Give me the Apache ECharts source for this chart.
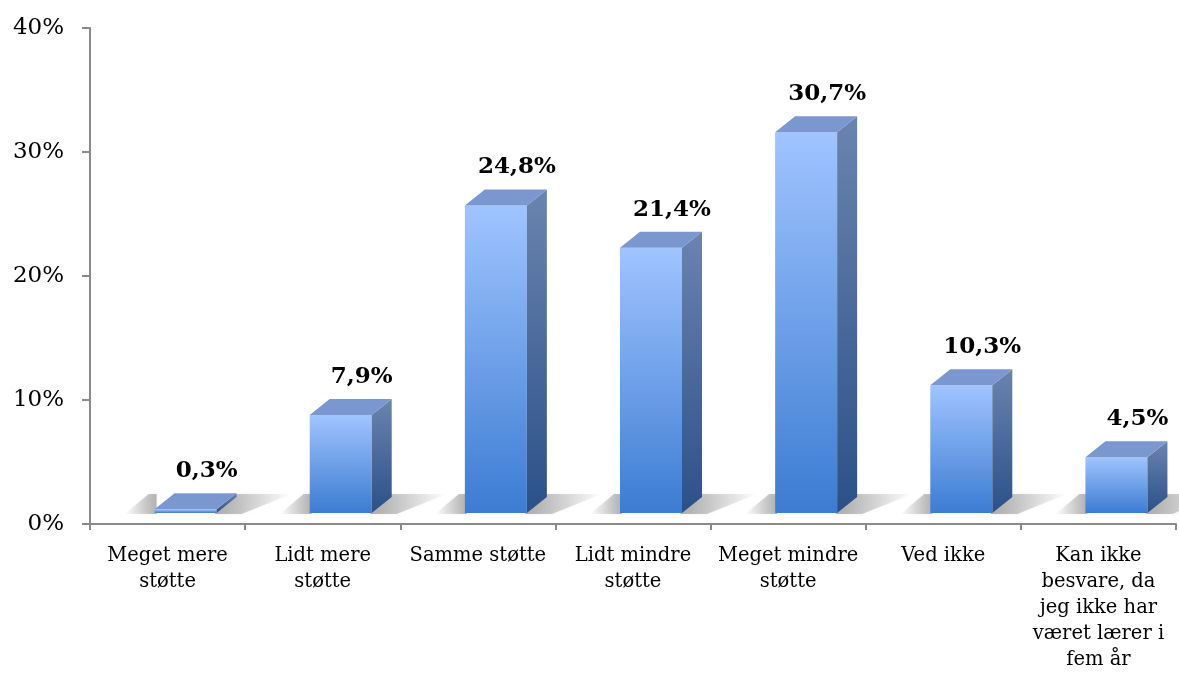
<!DOCTYPE html>
<html>
<head>
<meta charset="utf-8">
<script src="https://cdn.jsdelivr.net/npm/echarts@6/dist/echarts.min.js"></script>
<style>
html,body{margin:0;padding:0;background:#fff;}
#main{width:1179px;height:675px;}
</style>
</head>
<body>
<div id="main"></div>
<script>
const categories = [
  'Meget mere\nstøtte',
  'Lidt mere\nstøtte',
  'Samme støtte',
  'Lidt mindre\nstøtte',
  'Meget mindre\nstøtte',
  'Ved ikke',
  'Kan ikke\nbesvare, da\njeg ikke har\nværet lærer i\nfem år'
];
const values = [0.3, 7.9, 24.8, 21.4, 30.7, 10.3, 4.5];
const valueLabels = ['0,3%', '7,9%', '24,8%', '21,4%', '30,7%', '10,3%', '4,5%'];
const yMin = 0, yMax = 40, yStep = 10;

const chart = echarts.init(document.getElementById('main'));

function renderItem(params, api) {
  const idx = api.value(0);
  const p = api.coord([idx, api.value(1)]);
  const p0 = api.coord([idx, 0]);
  const cx = p[0];
  const w = 62, dx = 20, dy = -16, off = 11;
  const fl = cx - 13, fr = fl + w;
  const yt = p[1] - off, yb = p0[1] - off;
  const G = echarts.graphic.LinearGradient;
  return {
    type: 'group',
    children: [
      {
        type: 'polygon',
        shape: { points: [[fl - 30, yb + 1], [fl + 2, yb + 1], [fl + 2, yb + dy - 3], [fl - 6, yb + dy - 3]] },
        style: {
          fill: new G(0, 0, 1, 0, [
            { offset: 0, color: 'rgba(110,110,110,0)' },
            { offset: 1, color: 'rgba(110,110,110,0.5)' }
          ]),
          shadowBlur: 4,
          shadowColor: 'rgba(110,110,110,0.2)'
        },
        silent: true
      },
      {
        type: 'polygon',
        shape: { points: [[fr - 2, yb + 1], [fr + 25, yb + 1], [fr + dx + 55, yb + dy - 3], [fr + dx - 2, yb + dy - 3]] },
        style: {
          fill: new G(0, 0, 1, 0, [
            { offset: 0, color: 'rgba(110,110,110,0.55)' },
            { offset: 0.45, color: 'rgba(110,110,110,0.3)' },
            { offset: 1, color: 'rgba(110,110,110,0)' }
          ]),
          shadowBlur: 4,
          shadowColor: 'rgba(110,110,110,0.2)'
        },
        silent: true
      },
      {
        type: 'rect',
        shape: { x: fl, y: yt, width: w, height: Math.max(yb - yt, 1) },
        style: {
          fill: new G(0, 0, 0, 1, [
            { offset: 0, color: '#A0C4FF' },
            { offset: 1, color: '#3C7CD2' }
          ])
        }
      },
      {
        type: 'polygon',
        shape: { points: [[fr, yb], [fr, yt], [fr + dx, yt + dy], [fr + dx, yb + dy]] },
        style: {
          fill: new G(0, 0, 0, 1, [
            { offset: 0, color: '#6A84AE' },
            { offset: 1, color: '#2B5089' }
          ])
        }
      },
      {
        type: 'polygon',
        shape: { points: [[fl, yt], [fr, yt], [fr + dx, yt + dy], [fl + dx, yt + dy]] },
        style: { fill: '#7A98CF' }
      },
      {
        type: 'text',
        style: {
          text: valueLabels[idx],
          x: cx + 39,
          y: yt + dy - 22,
          align: 'center',
          verticalAlign: 'middle',
          font: 'bold 23px "DejaVu Serif"',
          fill: '#000'
        }
      }
    ]
  };
}

chart.setOption({
  animation: false,
  grid: { left: 90, right: 3, top: 28, bottom: 151, containLabel: false },
  xAxis: {
    type: 'category',
    data: categories,
    boundaryGap: true,
    axisLine: { lineStyle: { color: '#8a8a8a', width: 2 } },
    axisTick: { show: true, length: 6, lineStyle: { color: '#8a8a8a', width: 2 } },
    axisLabel: {
      interval: 0,
      margin: 19,
      fontFamily: 'DejaVu Serif',
      fontSize: 19.5,
      lineHeight: 26,
      color: '#000',
      align: 'center'
    }
  },
  yAxis: {
    type: 'value',
    min: yMin,
    max: yMax,
    interval: yStep,
    splitLine: { show: false },
    axisLine: { show: true, lineStyle: { color: '#8a8a8a', width: 2 } },
    axisTick: { show: true, length: 8, lineStyle: { color: '#8a8a8a', width: 2 } },
    axisLabel: {
      formatter: '{value}%',
      margin: 26,
      fontFamily: 'DejaVu Serif',
      fontSize: 23,
      color: '#000'
    }
  },
  series: [{
    type: 'custom',
    renderItem: renderItem,
    data: values.map((v, i) => [i, v]),
    encode: { x: 0, y: 1 },
    clip: false
  }]
});
</script>
</body>
</html>
